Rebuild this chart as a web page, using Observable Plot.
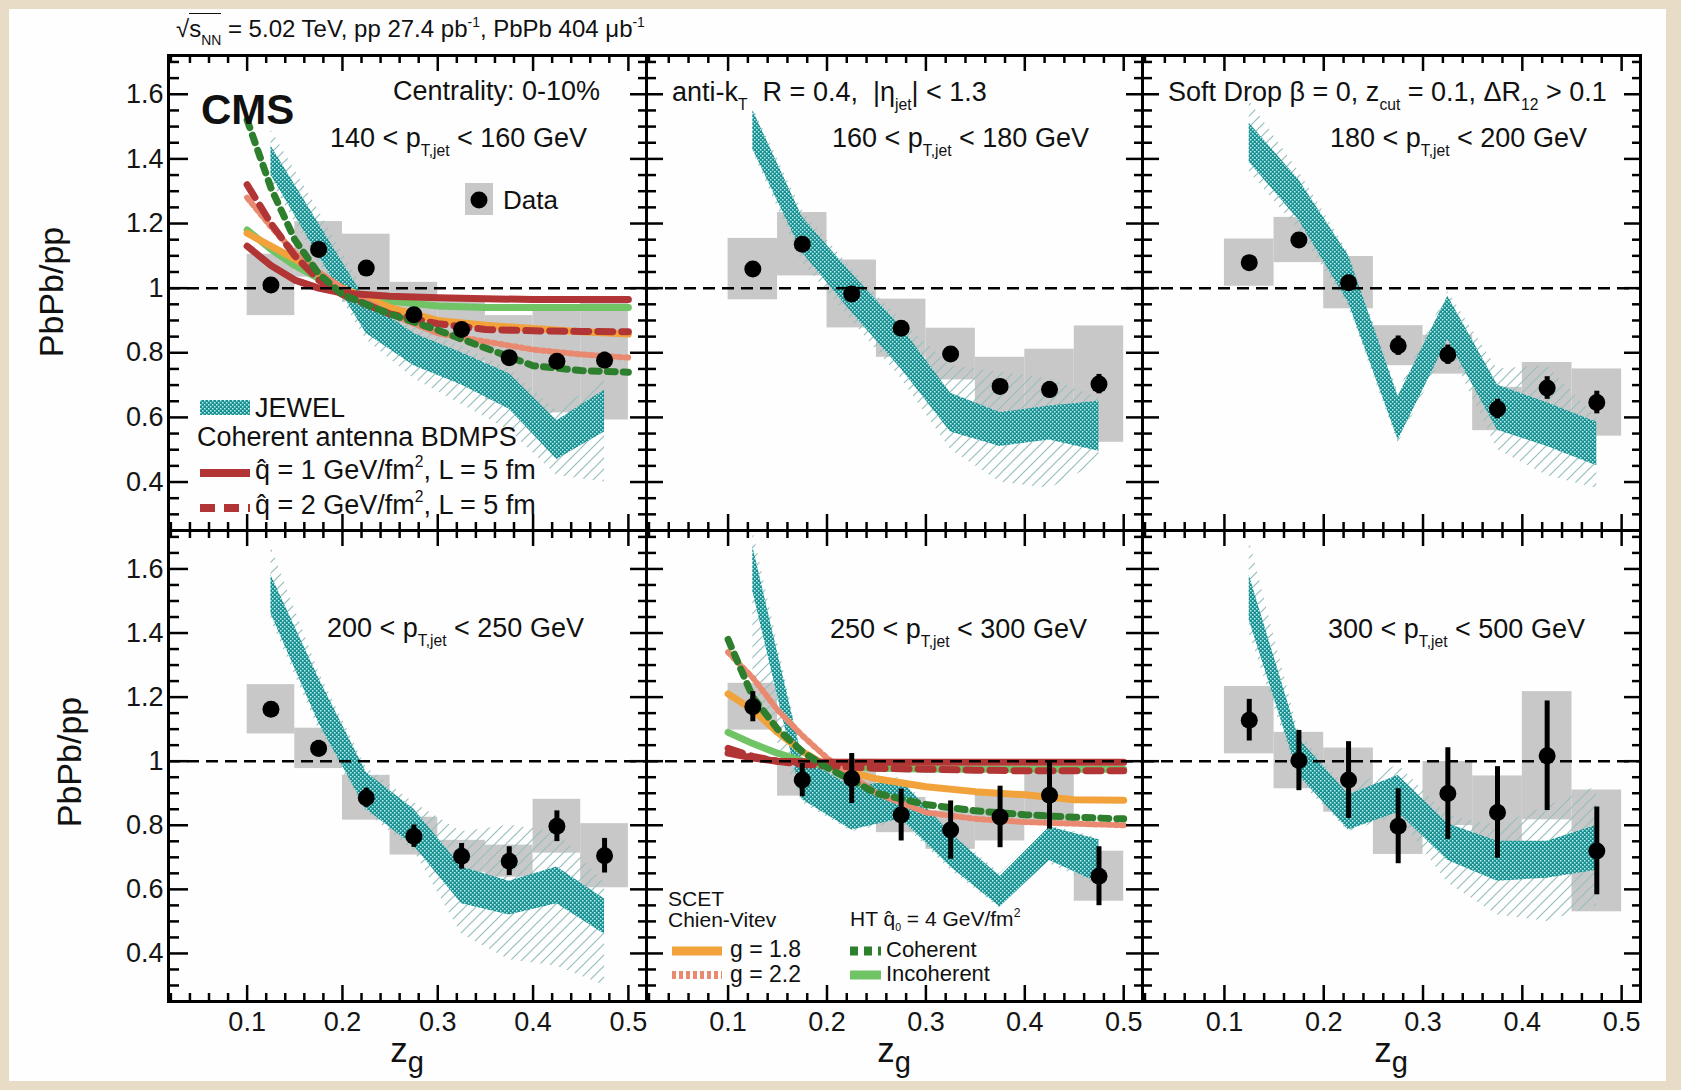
<!DOCTYPE html>
<html>
<head>
<meta charset="utf-8">
<script src="https://cdn.jsdelivr.net/npm/d3@7"></script>
<script src="https://cdn.jsdelivr.net/npm/@observablehq/plot@0.6"></script>
<style>
  body { margin: 0; background: #e9dcc6; }
  #page { position: relative; width: 1681px; height: 1090px; overflow: hidden;
          font-family: "Liberation Sans", Arial, Helvetica, sans-serif; color: #111; }
  #sheet { position: absolute; left: 9px; top: 9px; width: 1657px; height: 1072px; background: #fefefe; }
  .lbl { position: absolute; white-space: nowrap; line-height: 1; transform: translateY(-50%); }
  .lbl sub { font-size: 0.58em; position: relative; top: 0.6em; vertical-align: baseline; }
  .lbl sup { font-size: 0.58em; position: relative; top: -0.75em; vertical-align: baseline; }
  .zg sub { font-size: 0.83em; top: 0.35em; }
  .ht sub { font-size: 0.5em; top: 0.45em; }
  .rot { position: absolute; white-space: nowrap; line-height: 1; transform: translate(-50%, -50%) rotate(-90deg); }
  .sw { position: absolute; overflow: visible; }
  .ov { border-top: 1.5px solid #111; padding-top: 1px; }
</style>
</head>
<body>
<div id="page">
  <div id="sheet"></div>
  <svg width="0" height="0" style="position:absolute">
    <defs>
      <pattern id="jewelFill" patternUnits="userSpaceOnUse" width="4" height="4">
        <rect width="4" height="4" fill="#1c8e8f"></rect>
        <rect x="0" y="0" width="1.5" height="1.5" fill="#b4f4f2"></rect>
        <rect x="2" y="2" width="1.5" height="1.5" fill="#b4f4f2"></rect>
      </pattern>
      <pattern id="jewelHatch" patternUnits="userSpaceOnUse" width="11" height="11">
        <path d="M-2,2 l4,-4 M0,11 l11,-11 M9,13 l4,-4" stroke="#98bebe" stroke-width="1.2"></path>
      </pattern>
    </defs>
  </svg>
</div>
<script>
// ---------------------------------------------------------------------------
// Groomed momentum fraction z_g bins (width 0.05)
const zgBins = [0.125, 0.175, 0.225, 0.275, 0.325, 0.375, 0.425, 0.475];
const binWidth = 0.05;

// PbPb/pp ratio, statistical and systematic uncertainties per jet pT bin
const ratio140 = [1.010, 1.120, 1.062, 0.918, 0.872, 0.785, 0.774, 0.777];
const stat140  = [0.010, 0.012, 0.015, 0.015, 0.018, 0.020, 0.020, 0.025];
const sys140   = [0.095, 0.086, 0.105, 0.100, 0.100, 0.130, 0.160, 0.185];

const ratio160 = [1.059, 1.136, 0.982, 0.876, 0.796, 0.696, 0.686, 0.703];
const stat160  = [0.010, 0.012, 0.015, 0.015, 0.020, 0.020, 0.025, 0.030];
const sys160   = [0.095, 0.098, 0.105, 0.090, 0.080, 0.090, 0.125, 0.180];

const ratio180 = [1.079, 1.149, 1.017, 0.822, 0.794, 0.626, 0.691, 0.646];
const stat180  = [0.010, 0.015, 0.020, 0.030, 0.030, 0.030, 0.035, 0.035];
const sys180   = [0.073, 0.070, 0.081, 0.062, 0.060, 0.067, 0.079, 0.104];

const ratio200 = [1.162, 1.040, 0.886, 0.766, 0.703, 0.688, 0.797, 0.705];
const stat200  = [0.020, 0.025, 0.030, 0.035, 0.040, 0.045, 0.048, 0.054];
const sys200   = [0.077, 0.063, 0.070, 0.059, 0.050, 0.050, 0.084, 0.100];

const ratio250 = [1.170, 0.941, 0.946, 0.832, 0.785, 0.826, 0.894, 0.641];
const stat250  = [0.047, 0.052, 0.078, 0.081, 0.091, 0.096, 0.106, 0.092];
const sys250   = [0.073, 0.050, 0.060, 0.055, 0.060, 0.075, 0.085, 0.078];

const ratio300 = [1.128, 1.002, 0.941, 0.797, 0.899, 0.840, 1.017, 0.720];
const stat300  = [0.065, 0.094, 0.120, 0.117, 0.143, 0.143, 0.171, 0.137];
const sys300   = [0.105, 0.088, 0.100, 0.088, 0.100, 0.114, 0.200, 0.190];

// JEWEL: filled band and the wider hatched band (lower / upper edges)
const jewelLo140 = [1.35, 1.10, 0.86, 0.76, 0.70, 0.625, 0.47, 0.555];
const jewelHi140 = [1.44, 1.20, 0.96, 0.86, 0.80, 0.735, 0.59, 0.685];
const hatchLo140 = [1.33, 1.08, 0.84, 0.72, 0.64, 0.56, 0.42, 0.40];
const hatchHi140 = [1.49, 1.24, 0.98, 0.88, 0.82, 0.75, 0.62, 0.72];

const jewelLo160 = [1.43, 1.11, 0.925, 0.75, 0.555, 0.51, 0.53, 0.495];
const jewelHi160 = [1.55, 1.22, 1.045, 0.88, 0.675, 0.615, 0.635, 0.65];
const hatchLo160 = [1.42, 1.08, 0.90, 0.72, 0.50, 0.40, 0.38, 0.46];
const hatchHi160 = [1.56, 1.24, 1.06, 0.90, 0.76, 0.74, 0.72, 0.66];

const jewelLo180 = [1.39, 1.21, 0.955, 0.53, 0.84, 0.56, 0.51, 0.45];
const jewelHi180 = [1.51, 1.335, 1.10, 0.665, 0.975, 0.70, 0.645, 0.585];
const hatchLo180 = [1.36, 1.18, 0.94, 0.52, 0.82, 0.50, 0.42, 0.38];
const hatchHi180 = [1.58, 1.36, 1.11, 0.68, 0.99, 0.75, 0.76, 0.60];

const jewelLo200 = [1.46, 1.12, 0.85, 0.735, 0.555, 0.52, 0.555, 0.46];
const jewelHi200 = [1.58, 1.26, 0.965, 0.85, 0.67, 0.625, 0.67, 0.57];
const hatchLo200 = [1.44, 1.10, 0.84, 0.72, 0.46, 0.38, 0.36, 0.30];
const hatchHi200 = [1.67, 1.28, 0.98, 0.87, 0.78, 0.80, 0.78, 0.62];

const jewelLo250 = [1.53, 0.88, 0.785, 0.82, 0.67, 0.545, 0.69, 0.62];
const jewelHi250 = [1.67, 1.01, 0.92, 0.94, 0.775, 0.64, 0.795, 0.755];
const hatchLo250 = [1.25, 0.87, 0.78, 0.81, 0.66, 0.54, 0.68, 0.61];
const hatchHi250 = [1.72, 1.02, 0.93, 0.95, 0.78, 0.65, 0.80, 0.76];

const jewelLo300 = [1.44, 0.955, 0.785, 0.84, 0.69, 0.625, 0.635, 0.66];
const jewelHi300 = [1.58, 1.07, 0.895, 0.955, 0.805, 0.75, 0.75, 0.80];
const hatchLo300 = [1.40, 0.94, 0.78, 0.83, 0.62, 0.52, 0.50, 0.55];
const hatchHi300 = [1.69, 1.09, 0.91, 0.99, 0.83, 0.80, 0.86, 0.92];

// Analytic calculations, evaluated on a common z_g grid
const theoryZg = [0.10, 0.125, 0.15, 0.175, 0.20, 0.25, 0.30, 0.35, 0.40, 0.45, 0.50];

const bdmpsQ1_140 = [1.13, 1.07, 1.025, 1.00, 0.985, 0.975, 0.970, 0.967, 0.965, 0.965, 0.965];
const bdmpsQ2_140 = [1.32, 1.20, 1.10, 1.025, 0.98, 0.92, 0.89, 0.872, 0.868, 0.866, 0.865];
const htCoh_140   = [1.52, 1.31, 1.15, 1.045, 0.98, 0.92, 0.87, 0.815, 0.76, 0.745, 0.74];
const htIncoh_140 = [1.18, 1.12, 1.07, 1.03, 0.99, 0.96, 0.945, 0.94, 0.94, 0.94, 0.94];
const scet18_140  = [1.17, 1.13, 1.09, 1.045, 1.00, 0.94, 0.90, 0.885, 0.875, 0.865, 0.858];
const scet22_140  = [1.28, 1.19, 1.11, 1.05, 1.00, 0.92, 0.86, 0.835, 0.81, 0.795, 0.785];

const bdmpsQ1_250 = [1.025, 1.01, 1.00, 0.998, 0.997, 0.997, 0.997, 0.997, 0.997, 0.997, 0.997];
const bdmpsQ2_250 = [1.04, 1.015, 1.00, 0.99, 0.985, 0.978, 0.975, 0.972, 0.97, 0.97, 0.97];
const htCoh_250   = [1.38, 1.20, 1.10, 1.03, 0.98, 0.90, 0.865, 0.845, 0.833, 0.825, 0.82];
const htIncoh_250 = [1.09, 1.055, 1.025, 1.00, 0.985, 0.978, 0.976, 0.975, 0.975, 0.975, 0.975];
const scet18_250  = [1.21, 1.16, 1.09, 1.03, 0.985, 0.945, 0.92, 0.905, 0.895, 0.88, 0.878];
const scet22_250  = [1.34, 1.26, 1.16, 1.08, 1.01, 0.90, 0.84, 0.82, 0.81, 0.805, 0.80];

// Axis tick labels
const xTickLabels = [0.1, 0.2, 0.3, 0.4, 0.5];
const yTickLabels = [0.4, 0.6, 0.8, 1.0, 1.2, 1.4, 1.6];

// Panel texts
const ptLabels = [
  "140 &lt; p<sub>T,jet</sub> &lt; 160 GeV", "160 &lt; p<sub>T,jet</sub> &lt; 180 GeV", "180 &lt; p<sub>T,jet</sub> &lt; 200 GeV",
  "200 &lt; p<sub>T,jet</sub> &lt; 250 GeV", "250 &lt; p<sub>T,jet</sub> &lt; 300 GeV", "300 &lt; p<sub>T,jet</sub> &lt; 500 GeV"
];
// ---------------------------------------------------------------------------

const FONT = '"Liberation Sans", Arial, Helvetica, sans-serif';
const X_DOMAIN = [0.0175, 0.519];
const Y_DOMAIN = [0.25, 1.72];
const COLS = [[168, 646], [646, 1142], [1142, 1640]];
const ROWS = [[55, 530], [530, 1001]];

const modelStyle = {
  htIncoh: {stroke: "#70c466", strokeWidth: 7},
  scet18:  {stroke: "#f2a23a", strokeWidth: 7},
  scet22:  {stroke: "#e98a70", strokeWidth: 6, strokeDasharray: "3,4"},
  bdmpsQ1: {stroke: "#b23535", strokeWidth: 7},
  bdmpsQ2: {stroke: "#b23535", strokeWidth: 7, strokeDasharray: "15,9"},
  htCoh:   {stroke: "#2d7f2d", strokeWidth: 7, strokeDasharray: "8,8"}
};

const theory140 = [["htIncoh", htIncoh_140], ["scet18", scet18_140], ["scet22", scet22_140],
                   ["bdmpsQ1", bdmpsQ1_140], ["bdmpsQ2", bdmpsQ2_140], ["htCoh", htCoh_140]];
const theory250 = [["htIncoh", htIncoh_250], ["scet18", scet18_250], ["scet22", scet22_250],
                   ["bdmpsQ1", bdmpsQ1_250], ["bdmpsQ2", bdmpsQ2_250], ["htCoh", htCoh_250]];

const panels = [
  {col: 0, row: 0, ratio: ratio140, stat: stat140, sys: sys140, jLo: jewelLo140, jHi: jewelHi140, hLo: hatchLo140, hHi: hatchHi140, theory: theory140},
  {col: 1, row: 0, ratio: ratio160, stat: stat160, sys: sys160, jLo: jewelLo160, jHi: jewelHi160, hLo: hatchLo160, hHi: hatchHi160},
  {col: 2, row: 0, ratio: ratio180, stat: stat180, sys: sys180, jLo: jewelLo180, jHi: jewelHi180, hLo: hatchLo180, hHi: hatchHi180},
  {col: 0, row: 1, ratio: ratio200, stat: stat200, sys: sys200, jLo: jewelLo200, jHi: jewelHi200, hLo: hatchLo200, hHi: hatchHi200},
  {col: 1, row: 1, ratio: ratio250, stat: stat250, sys: sys250, jLo: jewelLo250, jHi: jewelHi250, hLo: hatchLo250, hHi: hatchHi250, theory: theory250},
  {col: 2, row: 1, ratio: ratio300, stat: stat300, sys: sys300, jLo: jewelLo300, jHi: jewelHi300, hLo: hatchLo300, hHi: hatchHi300}
];

const near = (a, b) => Math.abs(a - b) < 1e-9;
const xMinor = d3.range(1, 26).map(i => i * 2 / 100).filter(v => !xTickLabels.some(t => near(t, v)));
const yMinor = d3.range(6, 35).map(i => i * 5 / 100).filter(v => !yTickLabels.some(t => near(t, v)));
const tickList = (major, minor, lenMajor, lenMinor) =>
  [...major.map(v => ({v, len: lenMajor})), ...minor.map(v => ({v, len: lenMinor}))];

const page = document.getElementById("page");

function buildPanel(p) {
  const [fx0, fx1] = COLS[p.col], [fy0, fy1] = ROWS[p.row];
  const fw = fx1 - fx0, fh = fy1 - fy0, m = 4;
  const [X0, X1] = X_DOMAIN, [Y0, Y1] = Y_DOMAIN;
  const px = fw / (X1 - X0), py = fh / (Y1 - Y0);

  const pts = zgBins.map((zg, i) => ({zg, y: p.ratio[i], stat: p.stat[i], sys: p.sys[i]}));
  const band = zgBins.map((zg, i) => ({zg, lo: p.jLo[i], hi: p.jHi[i], hlo: p.hLo[i], hhi: p.hHi[i]}));
  const xt = tickList(xTickLabels, xMinor, 16, 8);
  const ytL = tickList(yTickLabels, yMinor, p.col === 0 ? 20 : 17, p.col === 0 ? 11 : 10);
  const ytR = tickList(yTickLabels, yMinor, 16, 8);
  const axisStyle = {stroke: "black", strokeWidth: 2.5};

  const marks = [
    Plot.rect(pts, {x1: d => d.zg - binWidth / 2, x2: d => d.zg + binWidth / 2,
                    y1: d => d.y - d.sys, y2: d => d.y + d.sys, fill: "#c8c8c8"}),
    Plot.areaY(band, {x: "zg", y1: "hlo", y2: "hhi", fill: "url(#jewelHatch)"}),
    Plot.areaY(band, {x: "zg", y1: "lo", y2: "hi", fill: "url(#jewelFill)"}),
    ...(p.theory || []).map(([key, values]) =>
      Plot.line(theoryZg.map((zg, i) => ({zg, y: values[i]})),
                {x: "zg", y: "y", strokeLinejoin: "round", ...modelStyle[key]})),
    Plot.ruleY([1], {stroke: "black", strokeWidth: 2.5, strokeDasharray: "12,7"}),
    Plot.ruleX(pts, {x: "zg", y1: d => d.y - d.stat, y2: d => d.y + d.stat, stroke: "black", strokeWidth: 5}),
    Plot.dot(pts, {x: "zg", y: "y", r: 8.5, fill: "black"}),
    Plot.ruleX(xt, {x: "v", y1: Y0, y2: d => Y0 + d.len / py, ...axisStyle}),
    Plot.ruleX(xt, {x: "v", y1: d => Y1 - d.len / py, y2: Y1, ...axisStyle}),
    Plot.ruleY(ytL, {y: "v", x1: X0, x2: d => X0 + d.len / px, ...axisStyle}),
    Plot.ruleY(ytR, {y: "v", x1: d => X1 - d.len / px, x2: X1, ...axisStyle}),
    Plot.frame({stroke: "black", strokeWidth: 3})
  ];
  if (p.row === 1) {
    marks.push(Plot.text(xTickLabels, {x: d => d, y: Y0, dy: 21, text: d => String(d),
      fontSize: 27, fontFamily: FONT, fill: "#151515"}));
  }
  if (p.col === 0) {
    marks.push(Plot.text(yTickLabels, {x: X0, y: d => d, dx: -5, textAnchor: "end", text: d => String(d),
      fontSize: 27, fontFamily: FONT, fill: "#151515"}));
  }

  const svg = Plot.plot({
    width: fw + 2 * m, height: fh + 2 * m,
    marginLeft: m, marginRight: m, marginTop: m, marginBottom: m,
    x: {domain: X_DOMAIN, axis: null},
    y: {domain: Y_DOMAIN, axis: null},
    style: {background: "transparent", overflow: "visible", fontFamily: FONT},
    marks
  });
  svg.style.position = "absolute";
  svg.style.left = (fx0 - m) + "px";
  svg.style.top = (fy0 - m) + "px";
  page.appendChild(svg);
}

panels.forEach(buildPanel);

// ---- text overlays -------------------------------------------------------
function label(html, x, y, size, extra = "") {
  const d = document.createElement("div");
  d.className = "lbl";
  d.style.cssText = `left:${x}px;top:${y}px;font-size:${size}px;${extra}`;
  d.innerHTML = html;
  page.appendChild(d);
  return d;
}
function swatch(svgInner, x, y, w, h) {
  const s = document.createElementNS("http://www.w3.org/2000/svg", "svg");
  s.setAttribute("class", "sw");
  s.setAttribute("width", w); s.setAttribute("height", h);
  s.style.left = x + "px"; s.style.top = y + "px";
  s.innerHTML = svgInner;
  page.appendChild(s);
}

label('√<span class="ov">s<sub>NN</sub></span> = 5.02 TeV, pp 27.4 pb<sup>-1</sup>, PbPb 404 μb<sup>-1</sup>', 176, 29, 24);

// y-axis titles
for (const [x, y] of [[51, 292], [69, 762]]) {
  const d = document.createElement("div");
  d.className = "rot";
  d.style.cssText = `left:${x}px;top:${y}px;font-size:34px;`;
  d.textContent = "PbPb/pp";
  page.appendChild(d);
}
// x-axis titles
for (const [c0, c1] of COLS) {
  const d = label("z<sub>g</sub>", (c0 + c1) / 2, 1050, 35, "transform:translate(-50%,-50%);");
  d.classList.add("zg");
}

label("CMS", 201, 110, 42, "font-weight:bold;");
label("Centrality: 0-10%", 393, 91, 27);
label("anti-k<sub>T</sub>&nbsp; R = 0.4,&nbsp; |η<sub>jet</sub>| &lt; 1.3", 672, 92, 27);
label("Soft Drop β = 0, z<sub>cut</sub> = 0.1, ΔR<sub>12</sub> &gt; 0.1", 1168, 92, 27);
const ptPos = [[330, 138], [832, 138], [1330, 138], [327, 628], [830, 629], [1328, 629]];
ptLabels.forEach((t, i) => label(t, ptPos[i][0], ptPos[i][1], 27));

// data legend
swatch('<rect x="0" y="0" width="28" height="32" fill="#c8c8c8"/><circle cx="14" cy="17" r="8.5" fill="black"/>', 465, 183, 28, 32);
label("Data", 503, 200, 26);

// JEWEL / BDMPS legend
swatch('<rect x="0" y="0" width="50" height="15" fill="url(#jewelFill)"/>', 200, 400, 50, 15);
label("JEWEL", 255, 408, 27);
label("Coherent antenna BDMPS", 197, 437, 27);
swatch('<line x1="0" y1="5" x2="50" y2="5" stroke="#b23535" stroke-width="8"/>', 200, 468, 50, 10);
label("q̂ = 1 GeV/fm<sup>2</sup>, L = 5 fm", 255, 470, 27);
swatch('<line x1="0" y1="5" x2="50" y2="5" stroke="#b23535" stroke-width="8" stroke-dasharray="15,9"/>', 200, 503, 50, 10);
label("q̂ = 2 GeV/fm<sup>2</sup>, L = 5 fm", 255, 505, 27);

// SCET / higher-twist legend
label("SCET", 668, 898, 21);
label("Chien-Vitev", 668, 919, 21);
swatch('<line x1="0" y1="5" x2="50" y2="5" stroke="#f2a23a" stroke-width="9"/>', 672, 946, 50, 10);
label("g = 1.8", 730, 949, 23);
swatch('<line x1="0" y1="5" x2="50" y2="5" stroke="#e98a70" stroke-width="8" stroke-dasharray="4,3"/>', 672, 970, 50, 10);
label("g = 2.2", 730, 974, 23);
label("HT q̂<sub>0</sub> = 4 GeV/fm<sup>2</sup>", 850, 918, 21).classList.add("ht");
swatch('<line x1="0" y1="5" x2="31" y2="5" stroke="#2d7f2d" stroke-width="9" stroke-dasharray="8,6"/>', 850, 946, 31, 10);
label("Coherent", 886, 950, 22);
swatch('<line x1="0" y1="5" x2="31" y2="5" stroke="#70c466" stroke-width="9"/>', 850, 970, 31, 10);
label("Incoherent", 886, 974, 22);
</script>
</body>
</html>
